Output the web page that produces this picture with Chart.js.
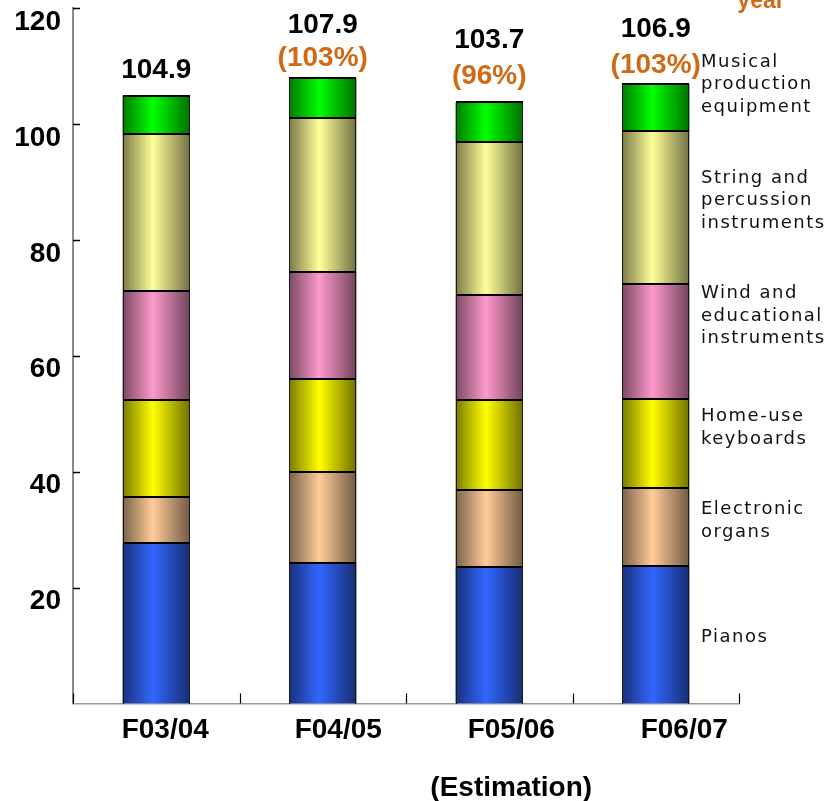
<!DOCTYPE html>
<html>
<head>
<meta charset="utf-8">
<title>Musical instrument market by category</title>
<style>
  html, body { margin: 0; padding: 0; background: #ffffff; }
  #wrap { width: 828px; height: 801px; position: relative; }
</style>
<script src="https://cdn.jsdelivr.net/npm/chart.js@4.4.1/dist/chart.umd.min.js"></script>
</head>
<body>
<div id="wrap"><canvas id="market" width="828" height="801"></canvas></div>
<script>
// Fiscal years
const years = ['F03/04', 'F04/05', 'F05/06', 'F06/07'];

// Market size per category (stacked bottom to top)
const pianos              = [27.7, 24.2, 23.5, 23.8];
const electronicOrgans    = [7.9, 15.7, 13.4, 13.3];
const homeKeyboards       = [16.7, 16.1, 15.4, 15.5];
const windEducational     = [18.8, 18.5, 18.2, 19.7];
const stringPercussion    = [27.2, 26.6, 26.3, 26.4];
const productionEquipment = [6.6, 6.8, 6.9, 8.2];

// Value axis ticks
const yTicks = [20, 40, 60, 80, 100, 120];

// Category captions beside the last bar, with their anchor heights on the value axis
const sideLabels = [
  ['Pianos'],
  ['Electronic', 'organs'],
  ['Home-use', 'keyboards'],
  ['Wind and', 'educational', 'instruments'],
  ['String and', 'percussion', 'instruments'],
  ['Musical', 'production', 'equipment']
];
const sideLabelAt = [11.7, 31.8, 47.9, 67.2, 87.1, 107.1];

const seriesColors = ['#3366ff', '#ffcc99', '#ffff00', '#ff99cc', '#ffff99', '#00ff00'];
const seriesValues = [pianos, electronicOrgans, homeKeyboards, windEducational, stringPercussion, productionEquipment];

// Stack totals and change versus the previous year
const totals = years.map((_, i) => seriesValues.reduce((s, arr) => s + arr[i], 0));
const yoy = totals.map((t, i) => i === 0 ? null : Math.round(t / totals[i - 1] * 100));

const BAR_PCT = 0.405;
const ORANGE = '#d06a14';

function shade(hex, f) {
  const n = parseInt(hex.slice(1), 16);
  const r = Math.round(((n >> 16) & 255) * f);
  const g = Math.round(((n >> 8) & 255) * f);
  const b = Math.round((n & 255) * f);
  return `rgb(${r},${g},${b})`;
}

// Cylinder-like horizontal shading across each bar
function barFill(context, hex) {
  const chart = context.chart;
  const area = chart.chartArea;
  if (!area || context.dataIndex === undefined) return hex;
  const cx = chart.scales.x.getPixelForValue(context.dataIndex);
  const w = (area.width / years.length) * BAR_PCT;
  const g = chart.ctx.createLinearGradient(cx - w / 2, 0, cx + w / 2, 0);
  g.addColorStop(0, shade(hex, 0.48));
  g.addColorStop(0.45, hex);
  g.addColorStop(1, shade(hex, 0.44));
  return g;
}

const names = ['Pianos', 'Electronic organs', 'Home-use keyboards',
  'Wind and educational instruments', 'String and percussion instruments',
  'Musical production equipment'];

const datasets = seriesValues.map((vals, k) => ({
  label: names[k],
  data: vals,
  backgroundColor: ctx => barFill(ctx, seriesColors[k]),
  borderWidth: 0,
  inflateAmount: 0,
  barPercentage: BAR_PCT,
  categoryPercentage: 1
}));

// Crisp outlines: thin sides, heavier separators between stacked segments
const segmentOutlines = {
  id: 'segmentOutlines',
  afterDatasetsDraw(chart) {
    const ctx = chart.ctx;
    ctx.save();
    chart.data.datasets.forEach((ds, k) => {
      chart.getDatasetMeta(k).data.forEach(bar => {
        const { x, y, base, width } = bar.getProps(['x', 'y', 'base', 'width'], true);
        const l = Math.round(x - width / 2) + 0.5;
        const r = Math.round(x + width / 2) - 0.5;
        const t = Math.round(y);
        const b = Math.round(base);
        ctx.strokeStyle = '#1a1a1a';
        ctx.lineWidth = 1;
        ctx.beginPath();
        ctx.moveTo(l, t); ctx.lineTo(l, b);
        ctx.moveTo(r, t); ctx.lineTo(r, b);
        ctx.stroke();
        ctx.strokeStyle = '#000';
        ctx.lineWidth = 2;
        ctx.beginPath();
        ctx.moveTo(l - 0.5, t); ctx.lineTo(r + 0.5, t);
        if (k > 0) { ctx.moveTo(l - 0.5, b); ctx.lineTo(r + 0.5, b); }
        ctx.stroke();
      });
    });
    ctx.restore();
  }
};

// Offsets of the total / ratio labels above each stack
const totalLift = [25.5, 52.5, 62.5, 54.5];
const ratioLift = [0, 19.5, 26.5, 18.5];

const annotations = {
  id: 'annotations',
  afterDraw(chart) {
    const { ctx, chartArea: a, scales: { x, y } } = chart;
    ctx.save();

    // value-axis tick marks, pointing into the plot
    ctx.strokeStyle = '#000';
    ctx.lineWidth = 1.5;
    yTicks.forEach(v => {
      const py = Math.round(y.getPixelForValue(v)) + 0.5;
      ctx.beginPath();
      ctx.moveTo(a.left, py);
      ctx.lineTo(a.left + 7, py);
      ctx.stroke();
    });

    // category boundary marks on the base line
    ctx.lineWidth = 1.2;
    const step = a.width / years.length;
    for (let i = 0; i <= years.length; i++) {
      const px = Math.round(a.left + i * step) + 0.5;
      ctx.beginPath();
      ctx.moveTo(px, a.bottom);
      ctx.lineTo(px, a.bottom - 10);
      ctx.stroke();
    }

    // stack totals and year-on-year ratios
    const top = chart.getDatasetMeta(datasets.length - 1).data;
    ctx.textAlign = 'center';
    ctx.textBaseline = 'middle';
    ctx.font = 'bold 28px "Liberation Sans", Arial, sans-serif';
    top.forEach((bar, i) => {
      ctx.fillStyle = '#000';
      ctx.fillText(totals[i].toFixed(1), bar.x, bar.y - totalLift[i]);
      if (yoy[i] !== null) {
        ctx.fillStyle = ORANGE;
        ctx.fillText('(' + yoy[i] + '%)', bar.x, bar.y - ratioLift[i]);
      }
    });

    // fiscal year captions
    ctx.fillStyle = '#000';
    ctx.textBaseline = 'alphabetic';
    years.forEach((yr, i) => {
      const px = x.getPixelForValue(i) + 9 + 6.5 * i;
      ctx.fillText(yr, px, a.bottom + 34);
    });
    ctx.fillText('(Estimation)', x.getPixelForValue(2) + 22, a.bottom + 92);

    // heading fragment at the top right
    ctx.fillStyle = ORANGE;
    ctx.font = 'bold 23px "Liberation Sans", Arial, sans-serif';
    ctx.fillText('year', a.right + 22, 8);

    // category captions
    ctx.fillStyle = '#111';
    ctx.textAlign = 'left';
    ctx.font = '18px "DejaVu Sans", Verdana, sans-serif';
    if ('letterSpacing' in ctx) ctx.letterSpacing = '1.5px';
    const lineH = 22.5;
    sideLabels.forEach((lines, k) => {
      const cy = y.getPixelForValue(sideLabelAt[k]);
      lines.forEach((t, j) => {
        const ly = cy + (j - (lines.length - 1) / 2) * lineH + 6.5;
        ctx.fillText(t, a.right - 38, ly);
      });
    });

    ctx.restore();
  }
};

new Chart(document.getElementById('market'), {
  type: 'bar',
  data: { labels: years, datasets },
  options: {
    responsive: false,
    animation: false,
    devicePixelRatio: 1,
    layout: { padding: { top: 8, right: 89, bottom: 97.5, left: 0 } },
    plugins: { legend: { display: false }, tooltip: { enabled: false } },
    scales: {
      x: {
        stacked: true,
        grid: { display: false, drawTicks: false },
        border: { display: true, color: '#9a9a9a', width: 1.5 },
        ticks: { display: false },
        afterFit(s) { s.height = 0; s.paddingLeft = 0; s.paddingRight = 0; }
      },
      y: {
        stacked: true,
        min: 0,
        max: 120,
        grid: { display: false, drawTicks: false },
        border: { display: true, color: '#8a8a8a', width: 2 },
        ticks: {
          stepSize: 20,
          padding: 12,
          labelOffset: 14,
          color: '#000',
          font: { family: '"Liberation Sans", Arial, sans-serif', size: 28, weight: 'bold' },
          callback: v => (yTicks.includes(v) ? String(v) : '')
        },
        afterFit(s) { s.width = 73; s.paddingTop = 0; s.paddingBottom = 0; }
      }
    }
  },
  plugins: [segmentOutlines, annotations]
});
</script>
</body>
</html>
